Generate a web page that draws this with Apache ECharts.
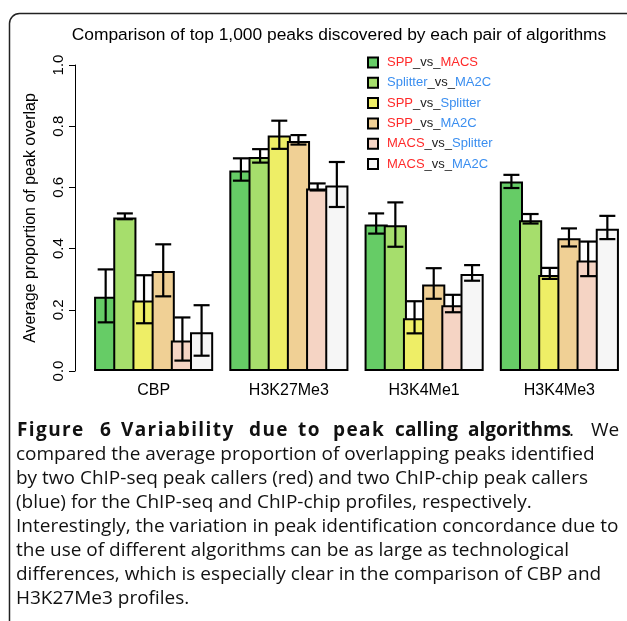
<!DOCTYPE html>
<html>
<head>
<meta charset="utf-8">
<script src="https://cdn.jsdelivr.net/npm/echarts@6/dist/echarts.min.js"></script>
<style>
  html, body { margin: 0; padding: 0; background: #fff; }
  #chart { width: 627px; height: 621px; }
</style>
</head>
<body>
<div id="chart"></div>
<script>
// Histone marks / factors on the x axis
const categories = ['CBP', 'H3K27Me3', 'H3K4Me1', 'H3K4Me3'];

// Algorithm pairs (legend order)
const pairNames = ['SPP_vs_MACS', 'Splitter_vs_MA2C', 'SPP_vs_Splitter',
                   'SPP_vs_MA2C', 'MACS_vs_Splitter', 'MACS_vs_MA2C'];

// Average proportion of peak overlap, one array per pair (CBP, H3K27Me3, H3K4Me1, H3K4Me3)
const sppVsMacs        = [0.243, 0.655, 0.479, 0.619];
const splitterVsMa2c   = [0.502, 0.699, 0.476, 0.493];
const sppVsSplitter    = [0.230, 0.770, 0.172, 0.314];
const sppVsMa2c        = [0.327, 0.752, 0.283, 0.434];
const macsVsSplitter   = [0.100, 0.596, 0.215, 0.361];
const macsVsMa2c       = [0.127, 0.606, 0.317, 0.465];

// Error bar ends (lower, upper) per pair
const sppVsMacsLow      = [0.159, 0.622, 0.449, 0.598];
const sppVsMacsHigh     = [0.332, 0.695, 0.515, 0.641];
const splitterVsMa2cLow = [0.496, 0.681, 0.406, 0.482];
const splitterVsMa2cHigh= [0.515, 0.725, 0.551, 0.513];
const sppVsSplitterLow  = [0.156, 0.726, 0.123, 0.301];
const sppVsSplitterHigh = [0.313, 0.818, 0.228, 0.337];
const sppVsMa2cLow      = [0.244, 0.740, 0.236, 0.407];
const sppVsMa2cHigh     = [0.414, 0.771, 0.336, 0.466];
const macsVsSplitterLow = [0.034, 0.590, 0.192, 0.310];
const macsVsSplitterHigh= [0.175, 0.613, 0.249, 0.423];
const macsVsMa2cLow     = [0.050, 0.536, 0.295, 0.431];
const macsVsMa2cHigh    = [0.215, 0.683, 0.346, 0.507];

// Y axis ticks
const yTicks = [0.0, 0.2, 0.4, 0.6, 0.8, 1.0];

const means = [sppVsMacs, splitterVsMa2c, sppVsSplitter, sppVsMa2c, macsVsSplitter, macsVsMa2c];
const lows  = [sppVsMacsLow, splitterVsMa2cLow, sppVsSplitterLow, sppVsMa2cLow, macsVsSplitterLow, macsVsMa2cLow];
const highs = [sppVsMacsHigh, splitterVsMa2cHigh, sppVsSplitterHigh, sppVsMa2cHigh, macsVsSplitterHigh, macsVsMa2cHigh];

const fills = ['#66CC66', '#A6DE6C', '#EEEE66', '#F0D095', '#F5D4C4', '#F6F6F6'];

// Plot area and bar geometry (bars in a group touch, outlines shared)
const GRID_W = 543;
const BAR_CAT_GAP = 0.152;
const BAR_STEP = (GRID_W / categories.length) * (1 - BAR_CAT_GAP) / pairNames.length;
const BORDER = 2;
const BAR_W = BAR_STEP + 2 * BORDER;           // outline is drawn inside the bar box
const BAR_GAP = -(BAR_W - BAR_STEP) / BAR_W;   // overlap so neighbours share an edge

const FONT = '"Liberation Sans", Arial, Helvetica, sans-serif';
const CAP_FONT = '"Open Sans", "Noto Sans", sans-serif';

const chart = echarts.init(document.getElementById('chart'), null, { renderer: 'canvas' });

const barSeries = pairNames.map((name, s) => ({
  name: name,
  type: 'bar',
  data: means[s],
  barGap: (BAR_GAP * 100).toFixed(3) + '%',
  barWidth: BAR_W,
  itemStyle: { color: fills[s], borderColor: '#000', borderWidth: BORDER },
  emphasis: { disabled: true },
  z: 2
}));

// Error bars: one item per bar, [category index, pair index, low, high]
const errData = [];
categories.forEach((c, ci) => {
  pairNames.forEach((p, s) => {
    errData.push([ci, s, lows[s][ci], highs[s][ci]]);
  });
});

const errSeries = {
  type: 'custom',
  data: errData,
  z: 5,
  silent: true,
  encode: { x: 0, y: [2, 3] },
  renderItem: function (params, api) {
    const ci = api.value(0), s = api.value(1);
    const center = api.coord([ci, 0])[0];
    const x = center + (s - (pairNames.length - 1) / 2) * BAR_STEP;
    const yLo = api.coord([ci, api.value(2)])[1];
    const yHi = api.coord([ci, api.value(3)])[1];
    const half = 8;
    const st = { stroke: '#000', lineWidth: 2.2, fill: null };
    return {
      type: 'group',
      children: [
        { type: 'line', shape: { x1: x, y1: yLo, x2: x, y2: yHi }, style: st },
        { type: 'line', shape: { x1: x - half, y1: yHi, x2: x + half, y2: yHi }, style: st },
        { type: 'line', shape: { x1: x - half, y1: yLo, x2: x + half, y2: yLo }, style: st }
      ]
    };
  }
};

// Legend labels: ChIP-seq callers in red, ChIP-chip callers in blue
const seqCallers = ['SPP', 'MACS'];
function legendLabel(name) {
  const parts = name.split('_vs_');
  const tag = (t) => seqCallers.indexOf(t) >= 0 ? 'r' : 'b';
  return '{pad|}{' + tag(parts[0]) + '|' + parts[0] + '}{k|_vs_}{' + tag(parts[1]) + '|' + parts[1] + '}';
}

// Caption
const captionLines = [
  'compared the average proportion of overlapping peaks identified',
  'by two ChIP-seq peak callers (red) and two ChIP-chip peak callers',
  '(blue) for the ChIP-seq and ChIP-chip profiles, respectively.',
  'Interestingly, the variation in peak identification concordance due to',
  'the use of different algorithms can be as large as technological',
  'differences, which is especially clear in the comparison of CBP and',
  'H3K27Me3 profiles.'
];
const headWords = ['Figure', '6', 'Variability', 'due', 'to', 'peak', 'calling', 'algorithms'];
const headX = [17, 100, 121, 249, 298, 333, 395, 468];
const HEAD_END = 567;           // where the bold heading stops (before the full stop)
const WORD_SPACE = 10;

// Justified bold heading: each word is letter-spaced (a little) toward the next one
const headFont = 'bold 19px ' + CAP_FONT;
const measureCtx = document.createElement('canvas').getContext('2d');
measureCtx.font = headFont;

const graphics = [
  {
    type: 'rect',
    shape: { x: 9.5, y: 13.5, width: 640, height: 660, r: 10 },
    style: { fill: null, stroke: '#222', lineWidth: 1.5 },
    silent: true, z: 0
  }
];
headWords.forEach((w, i) => {
  const end = i < headWords.length - 1 ? headX[i + 1] - WORD_SPACE : HEAD_END;
  const natural = measureCtx.measureText(w).width;
  let sp = w.length > 1 ? (end - headX[i] - natural) / (w.length - 1) : 0;
  sp = Math.max(0, Math.min(1.4, sp));
  const chars = w.split('');
  const txt = chars.map((ch, k) => '{' + (k < chars.length - 1 ? 's' : 'e') + '|' + ch + '}').join('');
  graphics.push({
    type: 'text', x: headX[i], y: 431,
    style: {
      text: txt, font: headFont, fill: '#111', textVerticalAlign: 'middle',
      rich: {
        s: { font: headFont, fill: '#111', padding: [0, sp, 0, 0] },
        e: { font: headFont, fill: '#111' }
      }
    }
  });
});
graphics.push({
  type: 'text', x: 569, y: 431,
  style: { text: '.', font: '19px ' + CAP_FONT, fill: '#111', textVerticalAlign: 'middle' }
});
graphics.push({
  type: 'text', x: 591, y: 431,
  style: { text: 'We', font: '19px ' + CAP_FONT, fill: '#111', textVerticalAlign: 'middle' }
});
captionLines.forEach((line, i) => {
  graphics.push({
    type: 'text', x: 16, y: 455 + i * 23.9,
    style: { text: line, font: '19px ' + CAP_FONT, fill: '#111', textVerticalAlign: 'middle' }
  });
});

chart.setOption({
  animation: false,
  backgroundColor: '#fff',
  title: {
    text: 'Comparison of top 1,000 peaks discovered by each pair of algorithms',
    left: 334, top: 22, textAlign: 'center',
    textStyle: { fontFamily: FONT, fontSize: 17.4, fontWeight: 'normal', color: '#000' }
  },
  legend: {
    orient: 'vertical',
    left: 367, top: 55,
    padding: 0,
    itemWidth: 10, itemHeight: 10,
    itemGap: 5.3,
    icon: 'rect',
    itemStyle: { borderColor: '#000', borderWidth: 2 },
    data: pairNames,
    selectedMode: false,
    formatter: legendLabel,
    textStyle: {
      fontFamily: FONT, fontSize: 13, lineHeight: 15,
      rich: {
        pad: { width: 4 },
        r: { color: '#FF2A2A', fontFamily: FONT, fontSize: 13 },
        b: { color: '#3A8EF0', fontFamily: FONT, fontSize: 13 },
        k: { color: '#222', fontFamily: FONT, fontSize: 13 }
      }
    }
  },
  grid: { left: 86, top: 65, width: GRID_W, height: 306, containLabel: false },
  xAxis: {
    type: 'category',
    data: categories,
    axisLine: { show: false },
    axisTick: { show: false },
    axisLabel: { fontFamily: FONT, fontSize: 16, color: '#000', margin: 12 }
  },
  yAxis: {
    type: 'value',
    min: 0, max: 1, interval: 0.2,
    offset: 11,
    splitLine: { show: false },
    axisLine: { show: true, lineStyle: { color: '#000', width: 1 } },
    axisTick: { show: true, length: 6, lineStyle: { color: '#000', width: 1 } },
    axisLabel: {
      rotate: 90, margin: 9, fontFamily: FONT, fontSize: 15, color: '#000',
      customValues: yTicks,
      formatter: (v) => v.toFixed(1)
    },
    name: 'Average proportion of peak overlap',
    nameLocation: 'middle', nameRotate: 90, nameGap: 36,
    nameTextStyle: { fontFamily: FONT, fontSize: 16, color: '#000' }
  },
  series: barSeries.concat([errSeries]),
  graphic: graphics
});
</script>
</body>
</html>
